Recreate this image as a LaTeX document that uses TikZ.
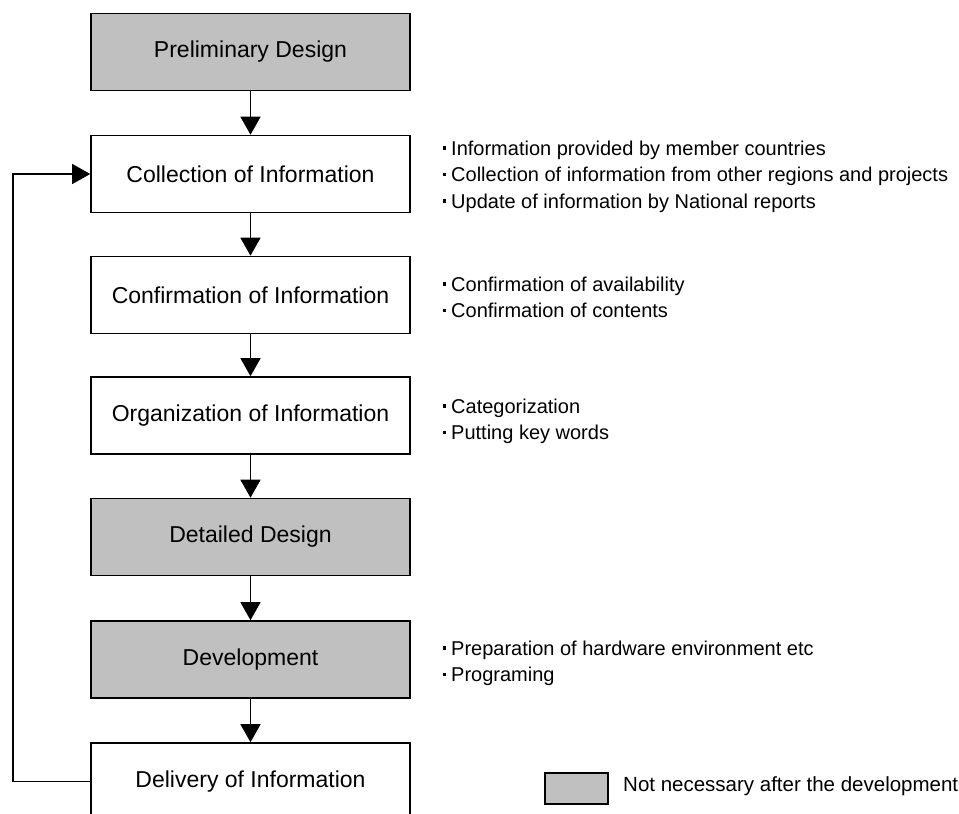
\documentclass[tikz,border=0pt]{standalone}
\usepackage{fontspec}
\setmainfont{Liberation Sans}
\usetikzlibrary{arrows.meta}
\definecolor{boxgray}{RGB}{192,192,192}
\newcommand{\bdot}{\raisebox{0.27em}{\rule{0.16em}{0.16em}}\hspace{0.24em}}
\begin{document}
\begin{tikzpicture}[x=1pt,y=-1pt,
  stepbox/.style={draw,line width=1.6pt,minimum width=319pt,minimum height=77pt,
    inner sep=0pt,font=\fontsize{23}{27}\selectfont},
  graybox/.style={stepbox,fill=boxgray},
  whitebox/.style={stepbox,fill=white},
  bline/.style={anchor=base west,inner sep=0pt,font=\fontsize{20}{24}\selectfont},
  flow/.style={line width=1.3pt,-{Triangle[width=20pt,length=18pt]}},
  legbox/.style={draw,line width=1.6pt,fill=boxgray,minimum width=63pt,minimum height=31pt,inner sep=0pt},
  legtext/.style={anchor=west,inner sep=0pt,font=\fontsize{20.5}{24}\selectfont}]
\useasboundingbox (0,0) rectangle (959,814);
\clip (0,0) rectangle (959,814);
\fill[white] (0,0) rectangle (959,814);

\node[graybox]  (pre)  at (250.5,52)    {Preliminary Design};
\node[whitebox] (col)  at (250.5,174)   {Collection of Information};
\node[whitebox] (conf) at (250.5,295)   {Confirmation of Information};
\node[whitebox] (org)  at (250.5,415.5) {Organization of Information};
\node[graybox]  (det)  at (250.5,537)   {Detailed Design};
\node[graybox]  (dev)  at (250.5,659.5) {Development};
\node[whitebox] (del)  at (250.5,781.5) {Delivery of Information};

\draw[flow] (pre) -- (col);
\draw[flow] (col) -- (conf);
\draw[flow] (conf) -- (org);
\draw[flow] (org) -- (det);
\draw[flow] (det) -- (dev);
\draw[flow] (dev) -- (del);

\coordinate (lb) at (13,781.5);
\coordinate (lt) at (13,174);
\draw[flow] (del.west) -- (lb) -- (lt) -- (col.west);

\node[bline] (c1) at (443,155) {\bdot Information provided by member countries};
\node[bline] (c2) at (443,181.5) {\bdot Collection of information from other regions and projects};
\node[bline] (c3) at (443,208) {\bdot Update of information by National reports};

\node[bline] (f1) at (443,291) {\bdot Confirmation of availability};
\node[bline] (f2) at (443,317.5) {\bdot Confirmation of contents};

\node[bline] (o1) at (443,413) {\bdot Categorization};
\node[bline] (o2) at (443,439.5) {\bdot Putting key words};

\node[bline] (d1) at (443,655) {\bdot Preparation of hardware environment etc};
\node[bline] (d2) at (443,681.5) {\bdot Programing};

\node[legbox] (leg) at (576.5,788.5) {};
\node[legtext] (legt) at (623,786) {Not necessary after the development};
\end{tikzpicture}
\end{document}
